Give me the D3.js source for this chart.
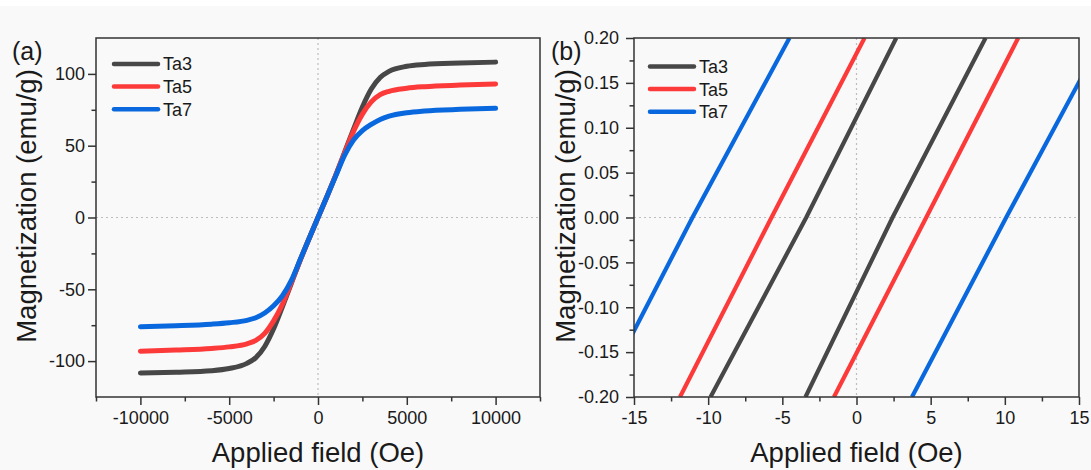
<!DOCTYPE html>
<html>
<head>
<meta charset="utf-8">
<script src="https://cdn.jsdelivr.net/npm/d3@7"></script>
<style>
  html, body { margin: 0; padding: 0; background: #f9f9f9; }
  svg { display: block; font-family: "Liberation Sans", Arial, Helvetica, sans-serif; }
</style>
</head>
<body>
<svg id="chart" width="1091" height="470"></svg>
<script>
// ---- Panel (a): full M–H curves ----
const fieldA = [-10000, -8000, -6000, -5000, -4000, -3500, -3000, -2500, -2000, -1500, -1000, -500,
                0, 500, 1000, 1500, 2000, 2500, 3000, 3500, 4000, 5000, 6000, 8000, 10000];
const ta3A = [-108.3, -107.7, -106.7, -105.2, -101.6, -97.6, -89.8, -77.5, -62, -45.8, -29.6, -14.6,
              0, 14.5, 29.5, 45.5, 61.5, 77, 89.5, 97.5, 101.8, 105.3, 106.6, 107.6, 108.2];
const ta5A = [-93.1, -92.3, -91.2, -90.1, -88, -85.6, -80.7, -72, -60.3, -45.2, -29.6, -14.6,
              0, 14.5, 29.5, 45, 60, 72, 80.5, 85.5, 87.9, 90, 91.1, 92.2, 93.0];
const ta7A = [-76.1, -75.4, -74.3, -73.3, -71.6, -69.8, -66.5, -61.5, -54.5, -43.8, -29.3, -14.6,
              0, 14.5, 29, 43.5, 54, 60.5, 64.8, 68.3, 70.6, 73, 74.2, 75.3, 76.0];

// ---- Panel (b): low-field zoom, both loop branches ----
const magB = [-0.2, 0, 0.2];
const ta3Desc = [-9.84, -3.39, 2.68];
const ta3Asc  = [-3.44, 2.43, 8.7];
const ta5Desc = [-11.9, -5.73, 0.54];
const ta5Asc  = [-1.52, 4.7, 10.9];
const ta7Desc = [-17.3, -11.06, -4.52];
const ta7Asc  = [3.74, 10.09, 16.6];

const seriesNames = ["Ta3", "Ta5", "Ta7"];
const seriesColors = ["#474747", "#fd3a3a", "#0a68de"];

// ---- Tick values ----
const xTicksA = [-10000, -5000, 0, 5000, 10000];
const xMinorA = [-12500, -7500, -2500, 2500, 7500, 12500];
const yTicksA = [-100, -50, 0, 50, 100];
const yMinorA = [-75, -25, 25, 75];
const xTicksB = [-15, -10, -5, 0, 5, 10, 15];
const xMinorB = [-12.5, -7.5, -2.5, 2.5, 7.5, 12.5];
const yTicksB = [-0.2, -0.15, -0.1, -0.05, 0, 0.05, 0.1, 0.15, 0.2];
const yMinorB = [-0.175, -0.125, -0.075, -0.025, 0.025, 0.075, 0.125, 0.175];

const svg = d3.select("#chart");
svg.append("rect").attr("x", 0).attr("y", 0).attr("width", 1091).attr("height", 6).attr("fill", "#ffffff");

const locale = d3.formatLocale({ decimal: ".", thousands: "", grouping: [3], currency: ["", ""], minus: "-" });
const fmtInt = locale.format("d");
const fmt2 = locale.format(".2f");

const axisColor = "#333333";
const textColor = "#1a1a1a";

function panel(opt) {
  const { left, right, top, bottom, xDomain, yDomain } = opt;
  const x = d3.scaleLinear().domain(xDomain).range([left, right]);
  const y = d3.scaleLinear().domain(yDomain).range([bottom, top]);
  const g = svg.append("g");
  const clipId = "clip-" + opt.id;
  svg.append("defs").append("clipPath").attr("id", clipId)
    .append("rect").attr("x", left).attr("y", top).attr("width", right - left).attr("height", bottom - top);

  // zero reference lines
  g.append("line").attr("x1", x(0)).attr("x2", x(0)).attr("y1", top).attr("y2", bottom)
    .attr("stroke", "#bdbdbd").attr("stroke-width", 1.2).attr("stroke-dasharray", "2,3");
  g.append("line").attr("x1", left).attr("x2", right).attr("y1", y(0)).attr("y2", y(0))
    .attr("stroke", "#bdbdbd").attr("stroke-width", 1.2).attr("stroke-dasharray", "2,3");

  const plot = g.append("g").attr("clip-path", `url(#${clipId})`);
  opt.draw(plot, x, y);

  // frame
  g.append("rect").attr("x", left).attr("y", top).attr("width", right - left).attr("height", bottom - top)
    .attr("fill", "none").attr("stroke", axisColor).attr("stroke-width", 1.5);

  // axes
  const styleAxis = sel => {
    sel.select(".domain").remove();
    sel.selectAll(".tick line").attr("stroke", axisColor).attr("stroke-width", 1.5);
    sel.selectAll("text").attr("fill", textColor).attr("font-size", 18)
      .attr("font-family", "Liberation Sans, Arial, sans-serif");
  };
  const xa = g.append("g").attr("transform", `translate(0,${bottom})`)
    .call(d3.axisBottom(x).tickValues(opt.xTicks).tickFormat(opt.xFmt).tickSize(8).tickPadding(6));
  styleAxis(xa);
  const xm = g.append("g").attr("transform", `translate(0,${bottom})`)
    .call(d3.axisBottom(x).tickValues(opt.xMinor).tickFormat("").tickSize(4.5));
  styleAxis(xm);
  const ya = g.append("g").attr("transform", `translate(${left},0)`)
    .call(d3.axisLeft(y).tickValues(opt.yTicks).tickFormat(opt.yFmt).tickSize(8).tickPadding(opt.yPad));
  styleAxis(ya);
  const ym = g.append("g").attr("transform", `translate(${left},0)`)
    .call(d3.axisLeft(y).tickValues(opt.yMinor).tickFormat("").tickSize(4.5));
  styleAxis(ym);

  // axis titles
  g.append("text").attr("x", (left + right) / 2 + opt.xTitleShift).attr("y", 462)
    .attr("text-anchor", "middle").attr("font-size", 27.5).attr("fill", textColor)
    .text("Applied field (Oe)");
  g.append("text").attr("transform", `translate(${opt.yTitleX},206) rotate(-90)`)
    .attr("text-anchor", "middle").attr("font-size", 27.5).attr("fill", textColor)
    .text("Magnetization (emu/g)");
  g.append("text").attr("x", opt.tagX).attr("y", 60).attr("font-size", 25).attr("fill", textColor)
    .text(opt.tag);

  // legend
  const lg = g.append("g");
  seriesNames.forEach((name, i) => {
    const yy = opt.legendY + i * 22.6;
    lg.append("line").attr("x1", opt.legendX).attr("x2", opt.legendX + 44).attr("y1", yy).attr("y2", yy)
      .attr("stroke", seriesColors[i]).attr("stroke-width", 4.5).attr("stroke-linecap", "round");
    lg.append("text").attr("x", opt.legendX + 49).attr("y", yy).attr("dy", "0.36em")
      .attr("font-size", 18).attr("fill", textColor).text(name);
  });
}

// Panel (a)
panel({
  id: "a", left: 96, right: 540, top: 38, bottom: 397,
  xDomain: [-12500, 12500], yDomain: [-125, 125],
  xTicks: xTicksA, xMinor: xMinorA, yTicks: yTicksA, yMinor: yMinorA,
  xFmt: fmtInt, yFmt: fmtInt, yPad: 3,
  xTitleShift: 0, yTitleX: 36, tag: "(a)", tagX: 12,
  legendX: 114, legendY: 64,
  draw(plot, x, y) {
    const line = d3.line().x(d => x(d[0])).y(d => y(d[1])).curve(d3.curveMonotoneX);
    [ta3A, ta5A, ta7A].forEach((vals, i) => {
      plot.append("path").datum(fieldA.map((h, k) => [h, vals[k]]))
        .attr("d", line).attr("fill", "none").attr("stroke", seriesColors[i])
        .attr("stroke-width", 5).attr("stroke-linecap", "round").attr("stroke-linejoin", "round");
    });
  }
});

// Panel (b)
panel({
  id: "b", left: 634, right: 1079, top: 38, bottom: 397,
  xDomain: [-15, 15], yDomain: [-0.2, 0.2],
  xTicks: xTicksB, xMinor: xMinorB, yTicks: yTicksB, yMinor: yMinorB,
  xFmt: fmtInt, yFmt: fmt2, yPad: 7,
  xTitleShift: 0, yTitleX: 575, tag: "(b)", tagX: 551,
  legendX: 650, legendY: 66.5,
  draw(plot, x, y) {
    const line = d3.line().x(d => x(d[0])).y(d => y(d[1]));
    const branches = [[ta3Desc, ta3Asc], [ta5Desc, ta5Asc], [ta7Desc, ta7Asc]];
    branches.forEach((pair, i) => {
      pair.forEach(hs => {
        plot.append("path").datum(hs.map((h, k) => [h, magB[k]]))
          .attr("d", line).attr("fill", "none").attr("stroke", seriesColors[i])
          .attr("stroke-width", 4.2);
      });
    });
  }
});
</script>
</body>
</html>
